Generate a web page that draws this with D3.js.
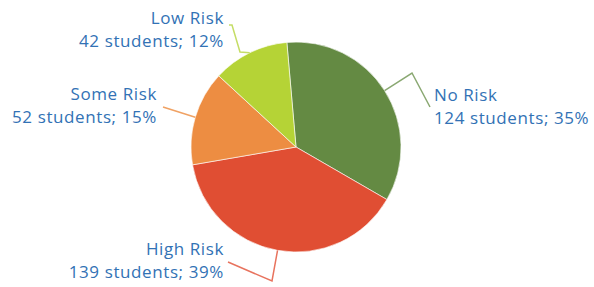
<!DOCTYPE html>
<html>
<head>
<meta charset="utf-8">
<script src="https://cdn.jsdelivr.net/npm/d3@7"></script>
<style>
  body { margin: 0; background: #fff; }
  svg text { font-family: "Open Sans", "Noto Sans", sans-serif; font-size: 17px; letter-spacing: 0.6px; fill: #3272b5; }
</style>
</head>
<body>
<svg id="svg" width="594" height="287"></svg>
<script>
// data
var categories = ["No Risk", "High Risk", "Some Risk", "Low Risk"];
var students = [124, 139, 52, 42];
var percents = [35, 39, 15, 12];
var colors = ["#648a43", "#e04e33", "#ed8d42", "#b5d336"];
var lineColors = ["#8aa872", "#e8735e", "#f0a264", "#c5dd66"];

var svg = d3.select("#svg");
var cx = 296, cy = 147, radius = 105;

var g = svg.append("g").attr("transform", "translate(" + cx + "," + cy + ")");

var startDeg = -5;
var pie = d3.pie().sort(null)
    .startAngle(startDeg * Math.PI / 180)
    .endAngle((startDeg + 360) * Math.PI / 180);
var arcs = pie(students);

var arc = d3.arc().innerRadius(0).outerRadius(radius);

g.selectAll("path.slice")
  .data(arcs)
  .enter()
  .append("path")
  .attr("class", "slice")
  .attr("d", arc)
  .style("fill", function(d, i) { return colors[i]; })
  .style("stroke", "#fff")
  .style("stroke-width", 0.6);

// edge point of a slice at its middle angle
function edge(d) {
  var a = (d.startAngle + d.endAngle) / 2;
  return [radius * Math.sin(a), -radius * Math.cos(a)];
}

// leader line bends (relative to the center) and label anchors, one per slice
var bends = [
  [[116, -74], [134, -40]],
  [[-24, 134], [-68, 115]],
  [[-133, -40]],
  [[-56, -95], [-64, -122], [-67, -122]]
];
var labelPos = [
  {x: 138, y: -46, anchor: "start"},
  {x: -72, y: 108, anchor: "end"},
  {x: -139, y: -47, anchor: "end"},
  {x: -72, y: -123, anchor: "end"}
];

arcs.forEach(function(d, i) {
  var pts = [edge(d)].concat(bends[i]);
  g.append("path")
    .attr("d", d3.line()(pts))
    .style("fill", "none")
    .style("stroke", lineColors[i])
    .style("stroke-width", 1.5);

  var t = g.append("text")
    .attr("text-anchor", labelPos[i].anchor)
    .attr("x", labelPos[i].x)
    .attr("y", labelPos[i].y);
  t.append("tspan").attr("x", labelPos[i].x).text(categories[i]);
  t.append("tspan").attr("x", labelPos[i].x).attr("dy", 23)
    .text(students[i] + " students; " + percents[i] + "%");
});
</script>
</body>
</html>
